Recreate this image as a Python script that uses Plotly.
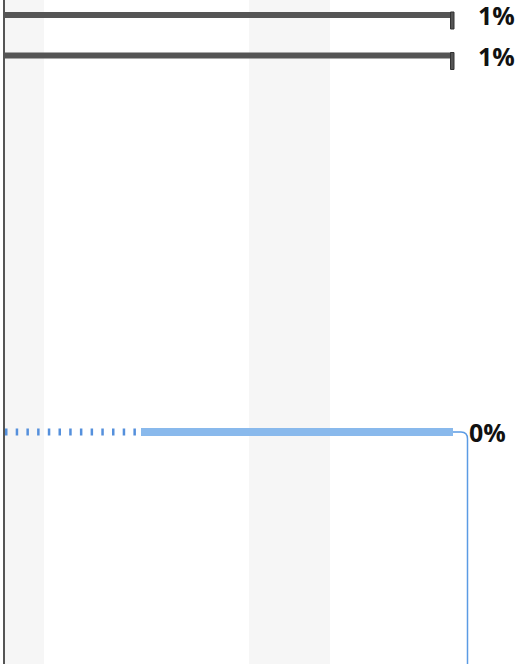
import plotly.graph_objects as go

# chart area is mapped 1:1 onto the 520 x 664 page
W, H = 520, 664

# shaded columns (start, end)
band_start = [5, 249]
band_end = [44, 330]

# rows
row_names = ["Row A", "Row B", "Row C"]
row_y = [15, 55.5, 432]
row_start = [5, 5, 141]
row_end = [452, 452, 453]
row_color = ["#555555", "#555555", "#89b9ec"]
row_width = [6, 6, 8]
row_label = ["1%", "1%", "0%"]
label_x = [476, 476, 467]

# dotted lead-in for the last row
lead_start = 5
lead_end = 138

fig = go.Figure()

for nm, y, x0, x1, c, w in zip(row_names, row_y, row_start, row_end, row_color, row_width):
    fig.add_trace(go.Scatter(x=[x0, x1], y=[y, y], mode="lines",
                             line=dict(color=c, width=w), name=nm,
                             hoverinfo="skip", showlegend=False))

fig.add_trace(go.Scatter(x=[lead_start, lead_end], y=[row_y[2], row_y[2]], mode="lines",
                         line=dict(color="#5590dc", width=7, dash="2.5px,8.2px"),
                         hoverinfo="skip", showlegend=False))

shapes = []
for b0, b1 in zip(band_start, band_end):
    shapes.append(dict(type="rect", xref="x", yref="paper", x0=b0, x1=b1, y0=0, y1=1,
                       fillcolor="#f6f6f6", line=dict(width=0), layer="below"))
# left axis line
shapes.append(dict(type="line", xref="x", yref="paper", x0=4, x1=4, y0=0, y1=1,
                   line=dict(color="#555555", width=2)))
# end ticks on the grey rows
for y, x1 in zip(row_y[:2], row_end[:2]):
    shapes.append(dict(type="rect", xref="x", yref="y", x0=x1 - 1.5, x1=x1 + 2,
                       y0=y - 3, y1=y + 14, fillcolor="#555555",
                       line=dict(color="#333333", width=1)))
# connector from the blue row downwards
yc = row_y[2]
xe = row_end[2]
shapes.append(dict(type="path", xref="x", yref="y",
                   path=f"M {xe} {yc} L {xe + 8} {yc} Q {xe + 14.5} {yc} {xe + 14.5} {yc + 7} L {xe + 14.5} {H}",
                   line=dict(color="#5b9be4", width=1.5)))

annotations = []
for y, t, lx in zip(row_y, row_label, label_x):
    annotations.append(dict(x=lx, y=y, xref="x", yref="y", text=f"<b>{t}</b>",
                            showarrow=False, xanchor="left", yanchor="middle",
                            font=dict(family="Open Sans", size=25, color="#111111")))

fig.update_layout(
    width=W, height=H,
    margin=dict(l=0, r=0, t=0, b=0),
    paper_bgcolor="white", plot_bgcolor="white",
    shapes=shapes, annotations=annotations,
    xaxis=dict(range=[0, W], visible=False, fixedrange=True),
    yaxis=dict(range=[H, 0], visible=False, fixedrange=True),
)

fig.write_html("out.html", config={"displayModeBar": False},
               post_script="document.body.style.margin='0';")
